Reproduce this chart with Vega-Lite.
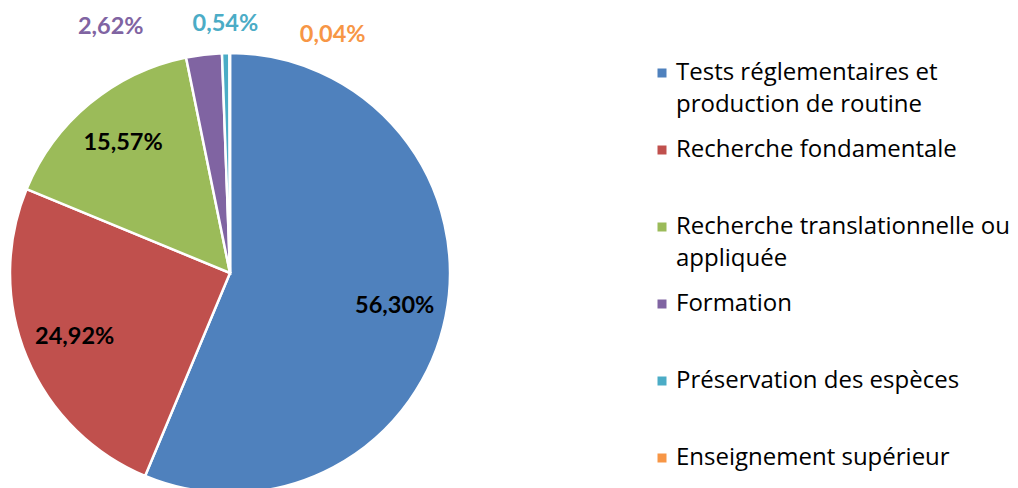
{
  "$schema": "https://vega.github.io/schema/vega-lite/v6.json",
  "width": 460,
  "height": 546,
  "padding": 0,
  "autosize": {"type": "pad"},
  "background": "white",
  "data": {
    "values": [
      {"cat": "Tests réglementaires et production de routine", "share": 0.5630, "o": 1},
      {"cat": "Recherche fondamentale", "share": 0.2492, "o": 2},
      {"cat": "Recherche translationnelle ou appliquée", "share": 0.1557, "o": 3},
      {"cat": "Formation", "share": 0.0262, "o": 4},
      {"cat": "Préservation des espèces", "share": 0.0054, "o": 5},
      {"cat": "Enseignement supérieur", "share": 0.0004, "o": 6}
    ]
  },
  "encoding": {
    "theta": {"field": "share", "type": "quantitative", "stack": true},
    "order": {"field": "o", "type": "quantitative"},
    "color": {
      "field": "cat",
      "type": "nominal",
      "scale": {
        "domain": ["Tests réglementaires et production de routine", "Recherche fondamentale", "Recherche translationnelle ou appliquée", "Formation", "Préservation des espèces", "Enseignement supérieur"],
        "range": ["#4F81BD", "#C0504D", "#9BBB59", "#8064A2", "#4BACC6", "#F79646"]
      },
      "legend": null
    }
  },
  "layer": [
    {
      "mark": {"type": "arc", "outerRadius": 220, "stroke": "white", "strokeWidth": 2.5},
      "encoding": {
        "color": {
          "field": "cat",
          "type": "nominal",
          "legend": {
            "title": null,
            "orient": "none",
            "legendX": 650,
            "legendY": 61,
            "symbolType": "square",
            "symbolSize": 81,
            "symbolStrokeWidth": 0,
            "labelFont": "Open Sans",
            "labelFontSize": 24,
            "labelColor": "black",
            "labelLimit": 400,
            "labelOffset": 2,
            "rowPadding": 21,
            "gridAlign": "all",
            "labelExpr": "datum.label == 'Tests réglementaires et production de routine' ? ['Tests réglementaires et', 'production de routine'] : datum.label == 'Recherche translationnelle ou appliquée' ? ['Recherche translationnelle ou', 'appliquée'] : datum.label"
          }
        }
      }
    },
    {
      "mark": {"type": "text", "radius": 168, "font": "Lato", "fontWeight": "bold", "fontSize": 23.5, "fill": "black"},
      "encoding": {
        "color": {"value": "black"},
        "text": {"condition": {"test": "datum.share > 0.1", "field": "share", "type": "quantitative", "format": ".2%"}, "value": ""}
      }
    },
    {
      "mark": {"type": "text", "radius": 120, "dx": -105, "dy": -127, "font": "Lato", "fontWeight": "bold", "fontSize": 23.5},
      "encoding": {
        "text": {"condition": {"test": "datum.cat == 'Formation'", "field": "share", "type": "quantitative", "format": ".2%"}, "value": ""}
      }
    },
    {
      "mark": {"type": "text", "radius": 240, "dx": 0, "dy": -9, "font": "Lato", "fontWeight": "bold", "fontSize": 23.5},
      "encoding": {
        "text": {"condition": {"test": "datum.cat == 'Préservation des espèces'", "field": "share", "type": "quantitative", "format": ".2%"}, "value": ""}
      }
    },
    {
      "mark": {"type": "text", "radius": 240, "dx": 103, "dy": 2, "font": "Lato", "fontWeight": "bold", "fontSize": 23.5},
      "encoding": {
        "text": {"condition": {"test": "datum.cat == 'Enseignement supérieur'", "field": "share", "type": "quantitative", "format": ".2%"}, "value": ""}
      }
    }
  ],
  "config": {
    "view": {"stroke": null},
    "locale": {"number": {"decimal": ",", "thousands": " ", "grouping": [3], "currency": ["", " €"]}},
    "style": {"guide-label": {"lineHeight": 32}}
  }
}
